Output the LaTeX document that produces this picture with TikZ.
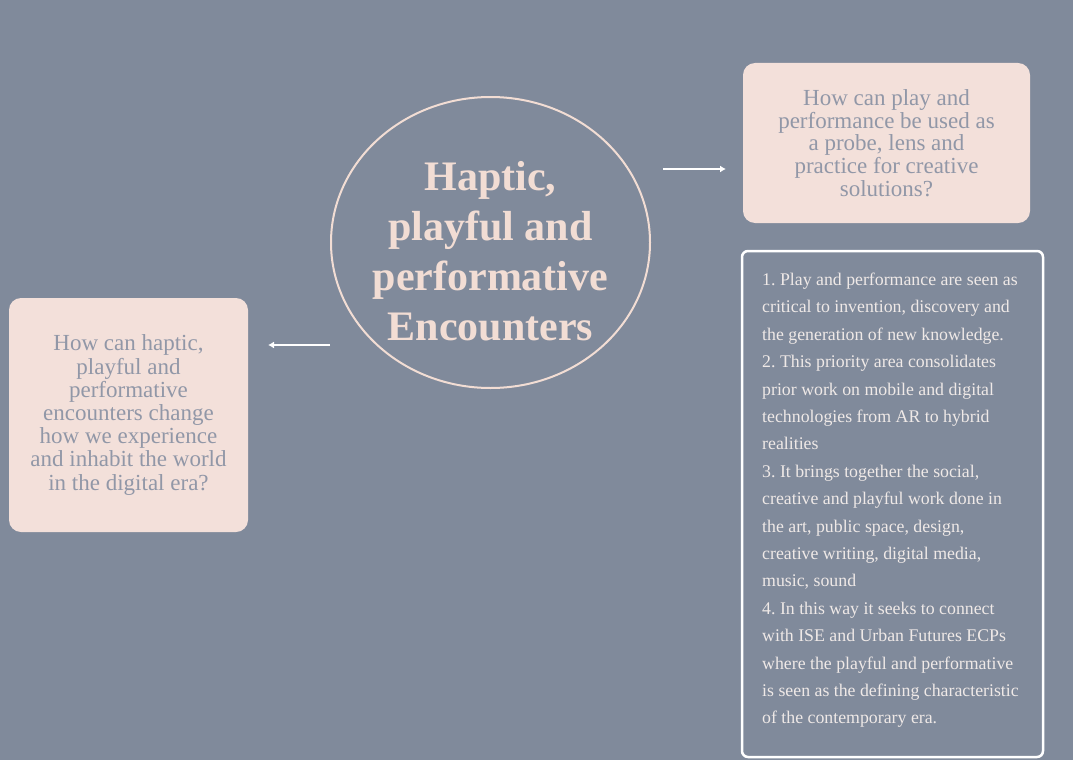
\documentclass[tikz,border=0pt]{standalone}
\usepackage{fontspec}
\setmainfont{Liberation Serif}
\usetikzlibrary{shapes.geometric,arrows.meta}
\definecolor{slate}{HTML}{808A9B}
\definecolor{blush}{HTML}{F3E0DA}
\definecolor{titlepink}{HTML}{F2DDD4}
\definecolor{qgray}{HTML}{9197A7}
\definecolor{notewhite}{HTML}{EFE9E7}
\tikzset{
  hub/.style={ellipse, draw=titlepink, line width=2pt, minimum width=319pt,
    minimum height=291pt, inner sep=0pt},
  titletext/.style={text=titlepink, align=center, inner sep=0pt,
    font=\fontsize{42}{50}\selectfont\bfseries},
  qbox/.style={fill=blush, rounded corners=12pt, text=qgray, align=center,
    inner sep=0pt, font=\fontsize{23}{22.8}\selectfont},
  notebox/.style={draw=white, line width=2.5pt, rounded corners=6pt,
    minimum width=301pt, minimum height=506pt, inner sep=0pt},
  notetext/.style={text=notewhite, align=left, inner sep=0pt,
    font=\fontsize{17.8}{27.4}\selectfont},
  pointer/.style={draw=white, line width=2pt,
    -{Latex[length=6pt,width=7pt]}}
}
\begin{document}
\frenchspacing
\begin{tikzpicture}[x=1pt,y=-1pt]
  % backdrop
  \fill[slate] (0,0) rectangle (1073,760);
  \useasboundingbox (0,0) rectangle (1073,760);

  % central theme
  \node[hub] (hub) at (490.5,242.5) {};
  \node[titletext] (title) at (490.5,251)
    {Haptic,\\playful and\\performative\\Encounters};

  % guiding questions
  \node[qbox, minimum width=287pt, minimum height=160pt] (qright) at (886.5,143)
    {How can play and\\performance be used as\\a probe, lens and\\practice for creative\\solutions?};
  \node[qbox, minimum width=239pt, minimum height=234pt, font=\fontsize{23}{23.2}\selectfont]
    (qleft) at (128.5,415)
    {How can haptic,\\playful and\\performative\\encounters change\\how we experience\\and inhabit the world\\in the digital era?};

  % priority area notes
  \node[notebox] (notes) at (892.5,504) {};
  \node[notetext, anchor=north west] (notestext) at (762,272.8)
    {1. Play and performance are seen as\\
     critical to invention, discovery and\\
     the generation of new knowledge.\\
     2. This priority area consolidates\\
     prior work on mobile and digital\\
     technologies from AR to hybrid\\
     realities\\
     3. It brings together the social,\\
     creative and playful work done in\\
     the art, public space, design,\\
     creative writing, digital media,\\
     music, sound\\
     4. In this way it seeks to connect\\
     with ISE and Urban Futures ECPs\\
     where the playful and performative\\
     is seen as the defining characteristic\\
     of the contemporary era.};

  % arrows
  \coordinate (lstart) at (330,345);
  \coordinate (lend) at (268,345);
  \coordinate (rstart) at (663,169);
  \coordinate (rend) at (726,169);
  \draw[pointer] (lstart) -- (lend);
  \draw[pointer] (rstart) -- (rend);
\end{tikzpicture}
\end{document}
